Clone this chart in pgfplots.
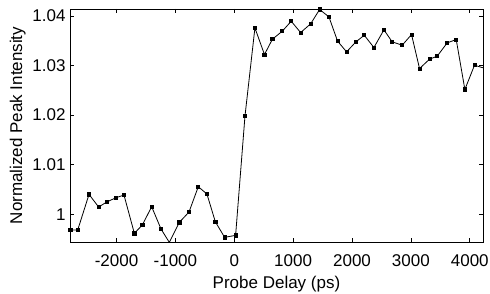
\documentclass[border=0pt]{standalone}
\usepackage{pgfplots}
\pgfplotsset{compat=1.18}
\usepackage{fontspec}
\setmainfont{Liberation Sans}
\begin{document}
\begin{tikzpicture}
\useasboundingbox (-70bp,-52bp) rectangle (420bp,242bp);
\begin{axis}[
  at={(0,0)}, anchor=south west,
  scale only axis, width=413bp, height=233bp,
  xmin=-2790, xmax=4225, ymin=0.99442, ymax=1.0414,
  font=\fontsize{17bp}{20bp}\selectfont,
  xtick={-2000,-1000,0,1000,2000,3000,4000},
  xticklabels={-2000,-1000,0,1000,2000,3000,4000},
  ytick={1,1.01,1.02,1.03,1.04},
  yticklabels={1,1.01,1.02,1.03,1.04},
  xticklabel style={yshift=-9bp},
  yticklabel style={xshift=-1bp},
  xlabel style={yshift=-3bp},
  tick align=inside, major tick length=4bp,
  tick style={line width=0.6bp, black},
  axis line style={line width=0.8bp},
  xlabel={Probe Delay (ps)},
  ylabel={Normalized Peak Intensity},
  minor tick num=0,
]
\addplot[black, line width=0.8bp, mark=square*, mark size=1.6bp] coordinates {
(-2784,0.99684) (-2659,0.99684) (-2467,1.00402) (-2303,1.00147) (-2167,1.00248)
(-2008,1.00335) (-1873,1.00389) (-1697,0.99617) (-1561,0.99785) (-1403,1.00154)
(-1244,0.99704) (-1103,0.99435) (-933,0.99838) (-769,1.00046) (-611,1.00557)
(-464,1.00409) (-322,0.99852) (-164,0.99536) (23,0.99576) (182,1.01980)
(351,1.03759) (513,1.03222) (648,1.03531) (815,1.03692) (968,1.03893)
(1127,1.03665) (1297,1.03840) (1450,1.04130) (1608,1.03981) (1755,1.03491)
(1908,1.03276) (2066,1.03477) (2208,1.03611) (2372,1.03363) (2542,1.03719)
(2683,1.03477) (2853,1.03410) (3011,1.03625) (3147,1.02940) (3317,1.03128)
(3447,1.03188) (3617,1.03457) (3770,1.03524) (3917,1.02517) (4081,1.03007)
(4228,1.02953)
};
\end{axis}
\end{tikzpicture}
\end{document}
